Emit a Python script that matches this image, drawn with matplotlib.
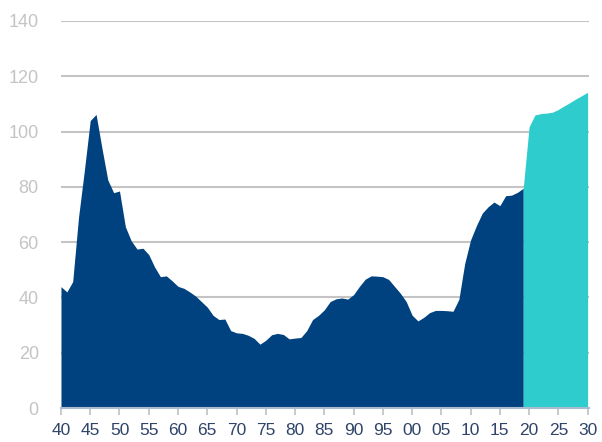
import matplotlib
matplotlib.use("Agg")
import matplotlib.pyplot as plt

plt.rcParams["font.family"] = ["Liberation Sans", "DejaVu Sans"]

# debt as % of GDP, actual to 2019
years = list(range(1940, 2020))
debt = [43.9, 42.0, 45.7, 69.0, 86.0, 104.0, 106.2, 94.0, 82.5, 77.9,
        78.5, 65.6, 60.5, 57.5, 57.8, 55.5, 51.0, 47.5, 47.8, 46.0,
        44.0, 43.3, 42.0, 40.5, 38.5, 36.5, 33.5, 32.0, 32.2, 28.0,
        27.2, 27.0, 26.3, 25.2, 23.1, 24.5, 26.5, 27.0, 26.6, 25.0,
        25.3, 25.5, 28.0, 32.0, 33.5, 35.5, 38.5, 39.5, 39.8, 39.4,
        41.0, 44.0, 46.6, 47.8, 47.7, 47.5, 46.5, 44.0, 41.5, 38.5,
        33.6, 31.5, 32.8, 34.5, 35.3, 35.3, 35.2, 35.0, 39.3, 52.3,
        60.8, 66.0, 70.5, 72.8, 74.5, 73.2, 76.8, 77.0, 78.0, 79.5]

# projection 2019-2030
proj_years = list(range(2019, 2031))
proj = [79.5, 101.7, 106.0, 106.5, 106.7, 107.0, 108.0, 109.3, 110.5, 111.8, 113.0, 114.2]

xticks = list(range(1940, 2031, 5))
xlabels = ["%02d" % (y % 100) for y in xticks]

fig = plt.figure(figsize=(6.02, 4.42), dpi=100)
ax = fig.add_axes([0.1013, 0.0769, 0.8777, 0.8756])

ax.fill_between(years, debt, 0, color="#00427f", lw=0, zorder=2)
ax.fill_between(proj_years, proj, 0, color="#2ecccc", lw=0, zorder=2)

ax.set_xlim(1940, 2030.3)
ax.set_ylim(0, 140)
ax.set_yticks(range(0, 141, 20))
ax.set_xticks(xticks)
ax.set_xticklabels(xlabels)

ax.grid(axis="y", color="#c4c4c4", lw=1.5, zorder=1)
for s in ["top", "right", "left"]:
    ax.spines[s].set_visible(False)
ax.spines["bottom"].set_color("#a9bcd4")
ax.spines["bottom"].set_linewidth(1.5)
ax.spines["bottom"].set_zorder(3)

ax.tick_params(axis="y", length=0, pad=16, labelsize=13, labelcolor="#c4c4c4")
ax.tick_params(axis="x", length=5, width=1.2, color="#c0c0c0", pad=6,
               labelsize=12.5, labelcolor="#2f4468")

fig.savefig("out.png", dpi=100)
